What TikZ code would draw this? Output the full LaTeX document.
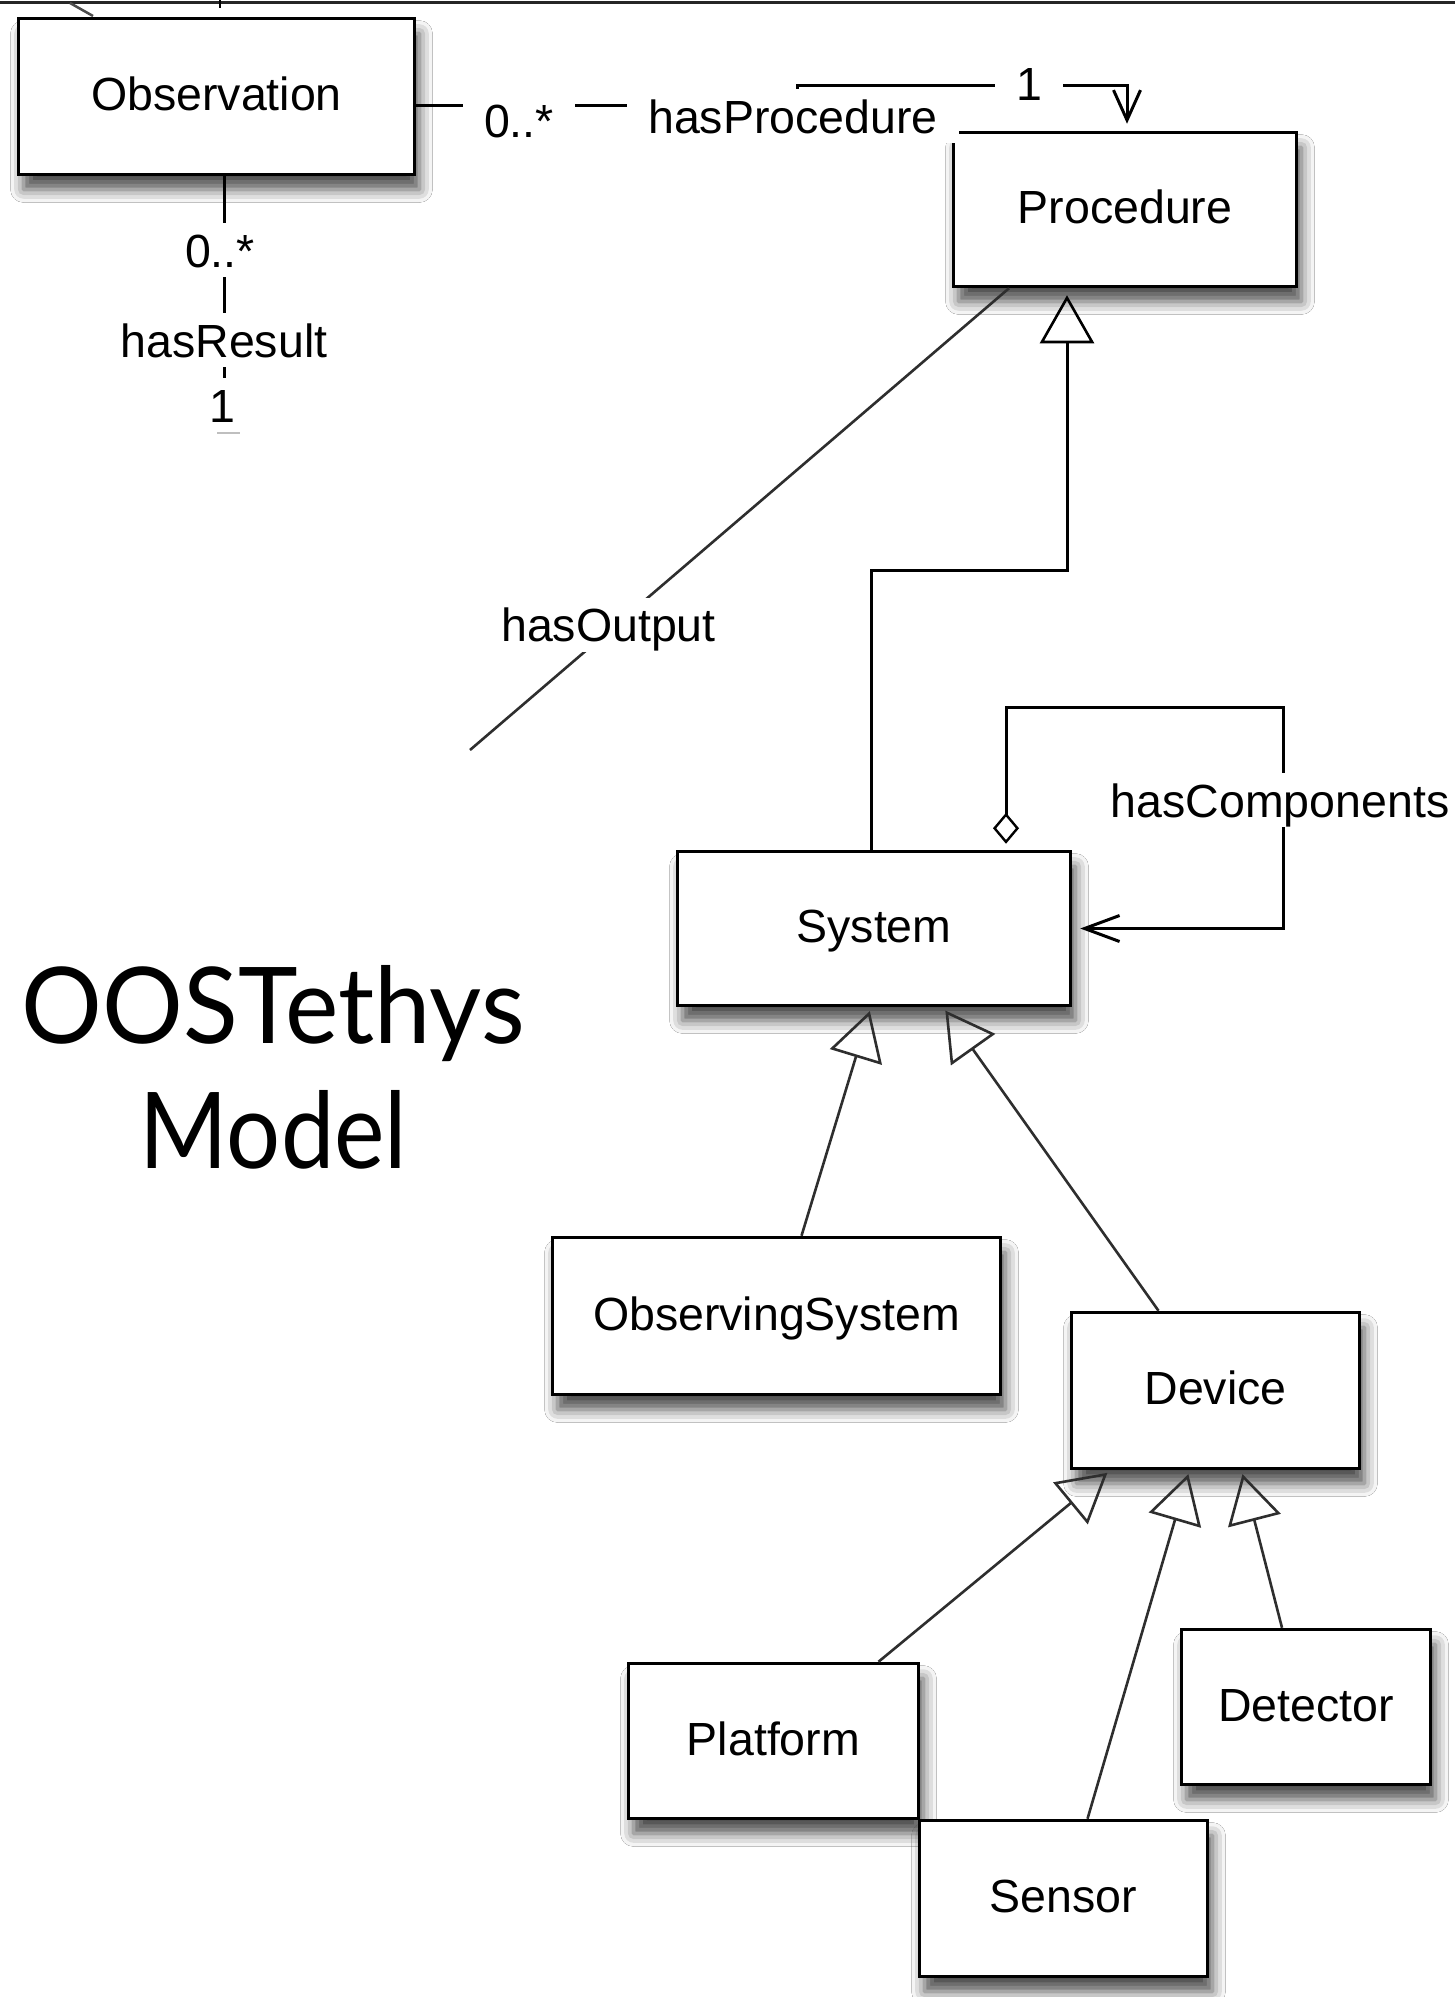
\documentclass[tikz,border=0pt]{standalone}
\usepackage{fontspec}
\setmainfont{Liberation Sans}
\newfontfamily\titlefont{Lato}
\usetikzlibrary{arrows.meta,shadows.blur,calc}

\begin{document}
\begin{tikzpicture}[x=1pt,y=-1pt,
  cls/.style={draw, line width=3.5pt, fill=white, rectangle, inner sep=0pt,
    font=\fontsize{46.5}{50}\selectfont, text height=34pt, text depth=6pt,
    blur shadow={shadow xshift=5pt, shadow yshift=-15pt, shadow blur radius=13pt, shadow opacity=70}},
  lbl/.style={fill=white, inner xsep=21pt, inner ysep=10pt,
    font=\fontsize{46.5}{50}\selectfont, text height=34pt, text depth=0pt},
  conn/.style={line width=3pt, draw=black},
  diag/.style={line width=2.6pt, draw=black!82},
  gen/.style={diag, -{Triangle[open, length=48pt, width=54pt, line width=2.6pt]}, shorten >=4pt},
  ttl/.style={anchor=base, inner sep=0pt, font=\titlefont\fontsize{106}{120}\selectfont},
]
\useasboundingbox (0,0) rectangle (1455,1997);
\fill[white] (0,0) rectangle (1455,1997);

% top border and cut-off fragments
\coordinate (tl) at (0,2);
\coordinate (tr) at (1455,2);
\draw[line width=3pt, black!85] (tl) -- (tr);
\coordinate (fa1) at (70,3);
\coordinate (fa2) at (93,16);
\draw[line width=2.5pt, black!70] (fa1) -- (fa2);
\coordinate (fb1) at (220,0);
\coordinate (fb2) at (220,8);
\draw[line width=2.5pt] (fb1) -- (fb2);

% classes
\node[cls, minimum width=396pt, minimum height=156pt] (obs) at (216.5,96.5) {Observation};
\node[cls, minimum width=343pt, minimum height=154pt] (proc) at (1125,209.5) {Procedure};
\node[cls, minimum width=393pt, minimum height=154pt] (sys) at (874,928.5) {System};
\node[cls, minimum width=448pt, minimum height=157pt] (obsys) at (776.5,1316) {ObservingSystem};
\node[cls, minimum width=288pt, minimum height=156pt] (dev) at (1215.5,1390.5) {Device};
\node[cls, minimum width=290pt, minimum height=155pt] (plat) at (773.5,1741) {Platform};
\node[cls, minimum width=288pt, minimum height=156pt] (sens) at (1063.5,1898.5) {Sensor};
\node[cls, minimum width=249pt, minimum height=155pt] (det) at (1306,1707) {Detector};

% hasProcedure
\coordinate (hpA) at (797,105);
\coordinate (hpB) at (797,85);
\coordinate (hpC) at (1127,85);
\draw[conn, -{Straight Barb[length=30pt,width=27pt]}, shorten >=7pt]
  (obs.east |- hpA) -- (hpA) -- (hpB) -- (hpC) -- (hpC |- proc.north);

% hasResult
\coordinate (hrEnd) at (224,433);
\draw[conn] ([xshift=7.5pt]obs.south) -- (hrEnd);
\draw[line width=2pt, black!25] ([xshift=-7pt]hrEnd) -- ([xshift=16pt]hrEnd);

% hasOutput
\coordinate (hoEnd) at (470,750);
\draw[diag] ([xshift=-116pt]proc.south) -- (hoEnd);

% hasComponents
\coordinate (hcA) at (1283,707);
\draw[conn, {Diamond[open, length=31pt, width=26pt, line width=2.4pt]}-{Straight Barb[length=35pt,width=26pt]},
  shorten <=6pt, shorten >=8pt]
  ([xshift=132pt]sys.north) |- (hcA) -- (hcA |- sys.east) -- (sys.east);

% generalizations
\coordinate (g1) at (1067,570);
\draw[conn, -{Triangle[open, length=48pt, width=54pt, line width=2.6pt]}, shorten >=7pt]
  ([xshift=-3pt]sys.north) |- (g1) -- ([xshift=-58pt]proc.south);
\draw[gen] ([xshift=25pt]obsys.north) -- ([xshift=-3pt]sys.south);
\draw[gen] ([xshift=-57pt]dev.north) -- ([xshift=69pt]sys.south);
\draw[gen] ([xshift=105pt]plat.north) -- ([xshift=-105pt]dev.south);
\draw[gen] ([xshift=24pt]sens.north) -- ([xshift=-26pt]dev.south);
\draw[gen] ([xshift=-24pt]det.north) -- ([xshift=26pt]dev.south);

% labels
\node[lbl] (hpm1) at (519,120) {0..*};
\node[lbl] (hpname) at (793,116) {hasProcedure};
\node[lbl] (hpm2) at (1029,83) {1};
\node[lbl] (hrm1) at (220,250) {0..*};
\node[lbl] (hrname) at (224,340) {hasResult};
\node[lbl] (hrm2) at (222,405) {1};
\node[lbl] (honame) at (608.5,624.5) {hasOutput};
\node[lbl] (hcname) at (1280,800) {hasComponents};

% title
\node[ttl] (t1) at (273,1043) {\scalebox{0.953}[1]{OOSTethys}};
\node[ttl] (t2) at (273.5,1168) {\scalebox{0.9}[1]{Model}};
\end{tikzpicture}
\end{document}
